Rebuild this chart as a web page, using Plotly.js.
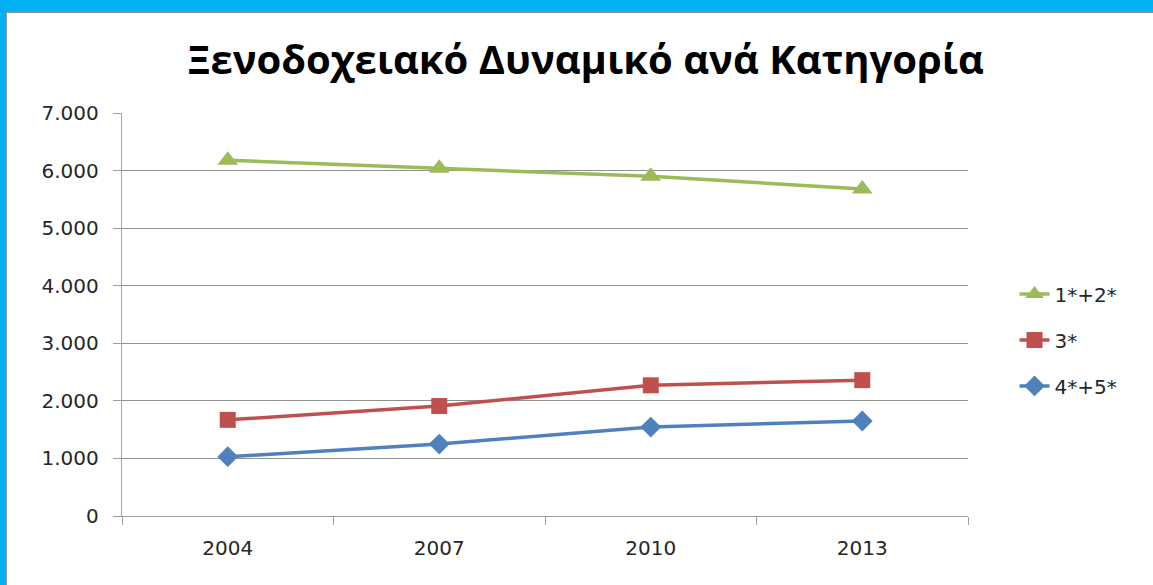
<!DOCTYPE html>
<html>
<head>
<meta charset="utf-8">
<script src="https://cdn.plot.ly/plotly-3.0.1.min.js"></script>
<style>
  html, body { margin: 0; padding: 0; background: #00B0F0; width: 1153px; height: 585px; overflow: hidden; }
  #wrap { position: absolute; left: 6px; top: 11px; width: 1147px; height: 574px; background: #fff;
          border-left: 1px solid #9a9a9a; border-top: 2px solid #8c8c8c; }
  #chart { width: 1146px; height: 572px; }
</style>
</head>
<body>
<div id="wrap"><div id="chart"></div></div>
<script>
const years = ["2004", "2007", "2010", "2013"];
const seriesNames = ["1*+2*", "3*", "4*+5*"];
const s12 = [6180, 6040, 5900, 5680];
const s3 = [1670, 1910, 2270, 2360];
const s45 = [1030, 1250, 1545, 1650];
const yTicks = [0, 1000, 2000, 3000, 4000, 5000, 6000, 7000];

const colors = ["#9BBB59", "#C0504D", "#4F81BD"];
const symbols = ["triangle-up", "square", "diamond"];
const sizes = [18, 16, 16];
const vals = [s12, s3, s45];

const traces = vals.map((v, i) => ({
  type: "scatter",
  mode: "lines+markers",
  x: years,
  y: v,
  name: seriesNames[i],
  legendgroup: "g" + i,
  line: { color: colors[i], width: 3.5 },
  marker: { color: colors[i], symbol: symbols[i], size: sizes[i] }
}));

const tickFont = { family: "DejaVu Sans, sans-serif", size: 20, color: "#262626" };

const layout = {
  width: 1146, height: 572,
  margin: { l: 115, r: 185, t: 100, b: 69 },
  paper_bgcolor: "#fff", plot_bgcolor: "#fff",
  separators: ",.",
  font: tickFont,
  title: {
    text: "Ξενοδοχειακό Δυναμικό ανά Κατηγορία",
    font: { family: "Open Sans, sans-serif", size: 40, color: "#000", weight: "bold" },
    x: 0.505, xanchor: "center", y: 0.918, yanchor: "middle"
  },
  showlegend: true,
  legend: {
    x: 1.055, xanchor: "left", y: 0.437, yanchor: "middle",
    traceorder: "grouped", tracegroupgap: 17,
    font: tickFont, bgcolor: "rgba(0,0,0,0)"
  },
  xaxis: {
    type: "category", range: [-0.5, 3.5],
    tickson: "boundaries", ticks: "outside", ticklen: 8, tickcolor: "#a0a0a0",
    showline: true, linecolor: "#a0a0a0", linewidth: 1.2,
    showgrid: false, zeroline: false, fixedrange: true,
    tickfont: tickFont, ticklabelstandoff: 14
  },
  yaxis: {
    range: [0, 7000], tickvals: yTicks, tickformat: ",d",
    ticks: "outside", ticklen: 8, tickcolor: "#a0a0a0",
    showline: true, linecolor: "#a0a0a0", linewidth: 1.2,
    showgrid: true, gridcolor: "#8f8f8f", gridwidth: 1,
    zeroline: false, fixedrange: true,
    tickfont: tickFont, ticklabelstandoff: 10
  }
};

Plotly.newPlot("chart", traces, layout, { displayModeBar: false, staticPlot: true });
</script>
</body>
</html>
